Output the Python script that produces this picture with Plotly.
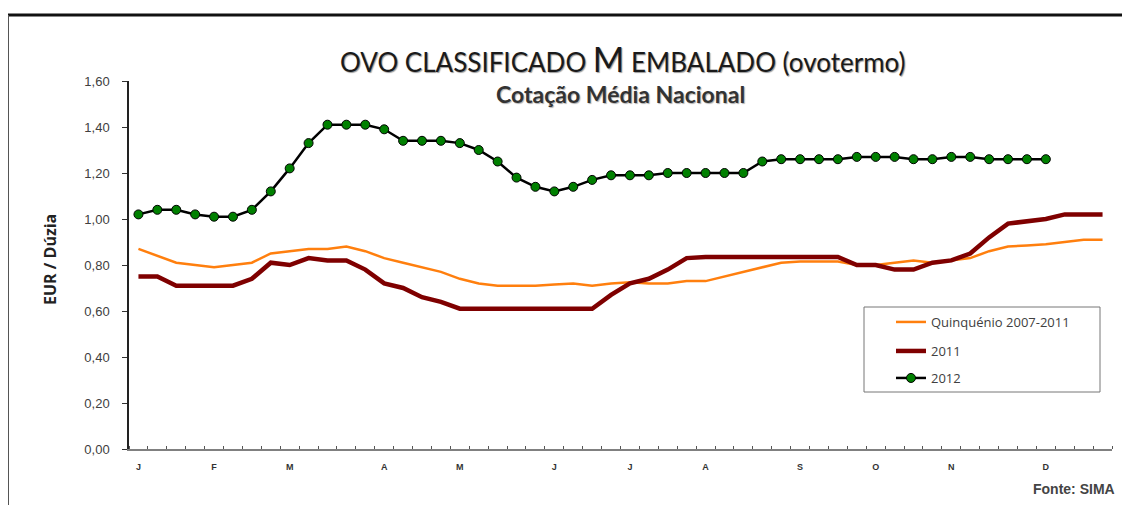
import plotly.graph_objects as go

weeks = list(range(1, 53))

quinquenio = [0.87, 0.84, 0.81, 0.80, 0.79, 0.80, 0.81, 0.85, 0.86, 0.87,
              0.87, 0.88, 0.86, 0.83, 0.81, 0.79, 0.77, 0.74, 0.72, 0.71,
              0.71, 0.71, 0.715, 0.72, 0.71, 0.72, 0.725, 0.72, 0.72, 0.73,
              0.73, 0.75, 0.77, 0.79, 0.81, 0.815, 0.815, 0.815, 0.80, 0.80,
              0.81, 0.82, 0.81, 0.82, 0.83, 0.86, 0.88, 0.885, 0.89, 0.90,
              0.91, 0.91]

y2011 = [0.75, 0.75, 0.71, 0.71, 0.71, 0.71, 0.74, 0.81, 0.80, 0.83,
         0.82, 0.82, 0.78, 0.72, 0.70, 0.66, 0.64, 0.61, 0.61, 0.61,
         0.61, 0.61, 0.61, 0.61, 0.61, 0.67, 0.72, 0.74, 0.78, 0.83,
         0.835, 0.835, 0.835, 0.835, 0.835, 0.835, 0.835, 0.835, 0.80, 0.80,
         0.78, 0.78, 0.81, 0.82, 0.85, 0.92, 0.98, 0.99, 1.00, 1.02,
         1.02, 1.02]

y2012 = [1.02, 1.04, 1.04, 1.02, 1.01, 1.01, 1.04, 1.12, 1.22, 1.33,
         1.41, 1.41, 1.41, 1.39, 1.34, 1.34, 1.34, 1.33, 1.30, 1.25,
         1.18, 1.14, 1.12, 1.14, 1.17, 1.19, 1.19, 1.19, 1.20, 1.20,
         1.20, 1.20, 1.20, 1.25, 1.26, 1.26, 1.26, 1.26, 1.27, 1.27,
         1.27, 1.26, 1.26, 1.27, 1.27, 1.26, 1.26, 1.26, 1.26]

month_weeks = [1, 5, 9, 14, 18, 23, 27, 31, 36, 40, 44, 49]
month_labels = ["J", "F", "M", "A", "M", "J", "J", "A", "S", "O", "N", "D"]

y_ticks = [0, 0.2, 0.4, 0.6, 0.8, 1.0, 1.2, 1.4, 1.6]

# page body has an 8px offset
OFF = 8
W, H = 1130 - OFF, 505 - OFF
PL, PR, PT, PB = 129, 1112, 81, 449   # plot area in page pixels
L, R, T, B = PL - OFF, 1130 - PR, PT - OFF, 505 - PB
pw, ph = PR - PL, PB - PT


def px(x):
    return (x - PL) / pw


def py(y):
    return (PB - y) / ph


fig = go.Figure()
fig.add_trace(go.Scatter(x=weeks, y=quinquenio, mode="lines", name="Quinquénio 2007-2011",
                         line=dict(color="#FF7F0E", width=2.5), legend="legend"))
fig.add_trace(go.Scatter(x=weeks, y=y2011, mode="lines", name="2011",
                         line=dict(color="#7F0000", width=4.5), legend="legend2"))
fig.add_trace(go.Scatter(x=weeks[:len(y2012)], y=y2012, mode="lines+markers", name="2012",
                         line=dict(color="#000000", width=2.5),
                         marker=dict(color="#008000", size=9, line=dict(color="#000000", width=1)),
                         legend="legend3"))

leg_common = dict(xanchor="left", yanchor="middle", bgcolor="rgba(0,0,0,0)", borderwidth=0,
                  font=dict(family="Open Sans", size=13, color="#404040"), itemwidth=30)

fig.update_layout(
    width=W, height=H,
    margin=dict(l=L, r=R, t=T, b=B, pad=0),
    paper_bgcolor="white", plot_bgcolor="white",
    separators=",.",
    font=dict(family="Liberation Sans, Arial", color="#333333"),
    showlegend=True,
    legend=dict(x=px(891), y=py(322), **leg_common),
    legend2=dict(x=px(891), y=py(351), **leg_common),
    legend3=dict(x=px(891), y=py(378), **leg_common),
    xaxis=dict(range=[0.5, 52.5], tickmode="array", tickvals=month_weeks,
               ticktext=["<b>%s</b>" % m for m in month_labels],
               ticks="", showgrid=False, zeroline=False, showline=True,
               linecolor="#808080", linewidth=2,
               tickfont=dict(family="Liberation Sans", size=9, color="#333333"),
               ticklabelstandoff=8,
               minor=dict(tick0=0.5, dtick=1, ticks="inside", ticklen=3, tickcolor="#555555", showgrid=False)),
    yaxis=dict(range=[0, 1.6], tickmode="array", tickvals=y_ticks, tickformat=".2f",
               ticks="outside", ticklen=5, tickcolor="#333333",
               showgrid=False, zeroline=False, showline=True, linecolor="#222222", linewidth=1.5,
               tickfont=dict(family="Liberation Sans", size=13, color="#404040"),
               ticklabelstandoff=10),
)

# axis title
fig.add_annotation(xref="paper", yref="paper", x=px(50), y=py(260), xanchor="center", yanchor="middle",
                   text="<b>EUR / Dúzia</b>", textangle=-90, showarrow=False,
                   font=dict(family="Open Sans", size=16, color="#222222"))
# title & subtitle
fig.add_annotation(xref="paper", yref="paper", x=px(622), y=py(58), xanchor="center", yanchor="middle",
                   text="OVO CLASSIFICADO <span style='font-size:34px'>M</span> EMBALADO (ovotermo)",
                   showarrow=False,
                   font=dict(family="Lato", size=26, color="#1a1a1a", shadow="1px 1px 1px #9a9a9a"))
fig.add_annotation(xref="paper", yref="paper", x=px(620), y=py(94), xanchor="center", yanchor="middle",
                   text="<b>Cotação Média Nacional</b>", showarrow=False,
                   font=dict(family="Lato", size=23, color="#333333", shadow="1px 1px 1px #b0b0b0"))
fig.add_annotation(xref="paper", yref="paper", x=px(1117), y=py(489), xanchor="right", yanchor="middle",
                   text="<b>Fonte: SIMA</b>", showarrow=False,
                   font=dict(family="Liberation Sans", size=14, color="#444444"))

# frame lines and legend box
fig.add_shape(type="line", xref="paper", yref="paper", x0=px(3), x1=px(1130), y0=py(15), y1=py(15),
              line=dict(color="#111111", width=3))
fig.add_shape(type="line", xref="paper", yref="paper", x0=px(8), x1=px(8), y0=py(15), y1=py(505),
              line=dict(color="#555555", width=2))
fig.add_shape(type="rect", xref="paper", yref="paper", x0=px(864), x1=px(1100), y0=py(307), y1=py(392),
              line=dict(color="#777777", width=1))

fig.write_html("out.html")
